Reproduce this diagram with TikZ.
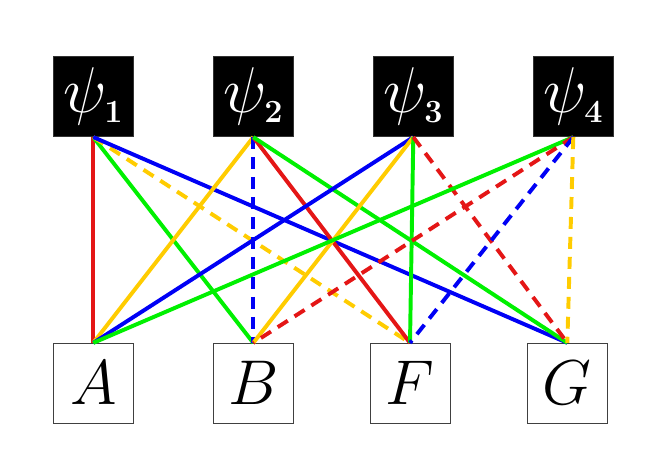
\RequirePackage{fix-cm}
\documentclass[tikz,border=0pt]{standalone}
\usepackage{xcolor}
\usepackage{amsmath}

\begin{document}
\begin{tikzpicture}[x=0.025cm, y=-0.025cm,
  wave/.style={fill=black, draw=black!80, line width=0.6pt, minimum size=2cm, inner sep=0pt, text=white, font=\fontsize{46}{50}\selectfont},
  site/.style={fill=white, draw=black!75, line width=0.6pt, minimum size=2cm, inner sep=0pt, font=\fontsize{45}{50}\selectfont},
  link/.style={line width=2.8pt},
  dlink/.style={line width=2.8pt, dash pattern=on 8.5pt off 5.7pt}]
  % Define colors
  \definecolor{lred}{RGB}{228,22,22}
  \definecolor{lgreen}{RGB}{0,240,0}
  \definecolor{lblue}{RGB}{0,0,245}
  \definecolor{lyellow}{RGB}{255,204,0}

  \useasboundingbox (0,0) rectangle (664,472);

  % Draw the wave functions and sites
  \node[wave] (p1) at (93.3,96.7) {$\psi_{\scriptscriptstyle\mathbf{1}}$};
  \node[wave] (p2) at (253.3,96.7) {$\psi_{\scriptscriptstyle\mathbf{2}}$};
  \node[wave] (p3) at (413.3,96.7) {$\psi_{\scriptscriptstyle\mathbf{3}}$};
  \node[wave] (p4) at (573.3,96.7) {$\psi_{\scriptscriptstyle\mathbf{4}}$};

  \node[site] (A) at (93.3,383.3) {$A$};
  \node[site] (B) at (253.3,383.3) {$B$};
  \node[site] (F) at (410,383.3) {$F$};
  \node[site] (G) at (567.3,383.3) {$G$};

  % Connect them
  \draw[link, lred] (p1.south) -- (A.north);
  \draw[link, lgreen] (p1.south) -- (B.north);
  \draw[dlink, lyellow] (p1.south) -- (F.north);
  \draw[link, lblue] (p1.south) -- (G.north);

  \draw[link, lyellow] (p2.south) -- (A.north);
  \draw[dlink, lblue] (p2.south) -- (B.north);
  \draw[link, lred] (p2.south) -- (F.north);
  \draw[link, lgreen] (p2.south) -- (G.north);

  \draw[link, lblue] (p3.south) -- (A.north);
  \draw[link, lyellow] (p3.south) -- (B.north);
  \draw[link, lgreen] (p3.south) -- (F.north);
  \draw[dlink, lred] (p3.south) -- (G.north);

  \draw[link, lgreen] (p4.south) -- (A.north);
  \draw[dlink, lred] (p4.south) -- (B.north);
  \draw[dlink, lblue] (p4.south) -- (F.north);
  \draw[dlink, lyellow] (p4.south) -- (G.north);

\end{tikzpicture}
\end{document}
